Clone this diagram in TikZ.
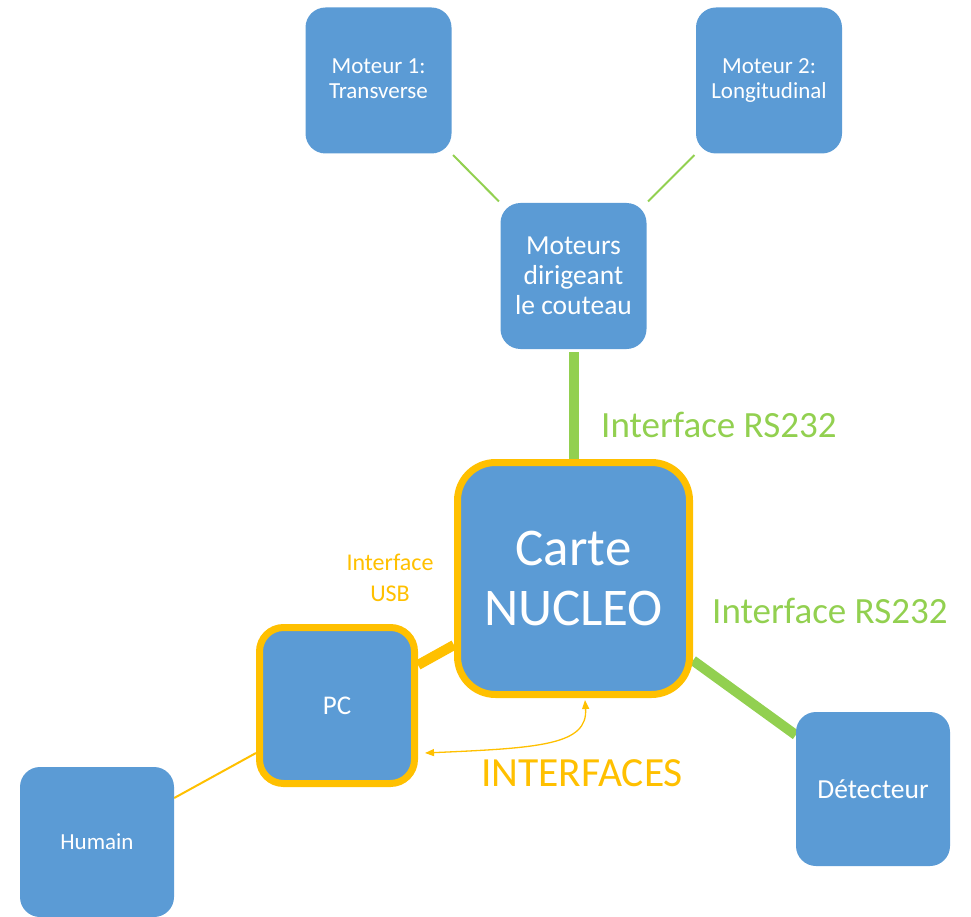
\documentclass[tikz,border=0pt]{standalone}
\usepackage{fontspec}
\setmainfont{Carlito}
\usetikzlibrary{arrows.meta,backgrounds,calc}
\definecolor{boxblue}{HTML}{5B9BD5}
\definecolor{ygold}{HTML}{FFC000}
\definecolor{lgreen}{HTML}{92D050}
\begin{document}
\begin{tikzpicture}[x=1pt,y=-1pt,
  blk/.style={rectangle, rounded corners=20pt, fill=boxblue, draw=none, text=white,
    align=center, minimum width=146pt, minimum height=146pt, inner sep=0pt},
  goldframe/.style={draw=ygold, line width=7pt},
  thinlink/.style={line width=2pt},
  thicklink/.style={line width=10pt},
  greenlabel/.style={text=lgreen, font=\fontsize{37}{40}\selectfont, anchor=base west, inner sep=0pt},
  goldtip/.tip={Triangle[length=9pt,width=7pt]}
]
\useasboundingbox (0,0) rectangle (971,917);

\node[blk, font=\fontsize{23}{25}\selectfont] (m1) at (378.5,80.5) {Moteur 1:\\Transverse\vphantom{g}};
\node[blk, font=\fontsize{23}{25}\selectfont] (m2) at (769,80.5) {Moteur 2:\\Longitudinal};
\node[blk, font=\fontsize{27.5}{30}\selectfont] (mm) at (573.5,276) {Moteurs\\dirigeant\\le couteau};
\node[blk, goldframe, rounded corners=38pt, minimum width=232pt, minimum height=232pt,
  font=\fontsize{53}{60}\selectfont] (carte) at (573.5,578.5) {Carte\\NUCLEO};
\node[blk, goldframe, rounded corners=24pt, minimum width=155pt, minimum height=156pt,
  font=\fontsize{27}{30}\selectfont] (pc) at (337,705.5) {PC};
\node[blk, minimum width=154pt, minimum height=150pt, font=\fontsize{23}{25}\selectfont] (hum) at (97,842) {Humain};
\node[blk, minimum width=154pt, minimum height=154pt, font=\fontsize{27.5}{30}\selectfont] (det) at (873,789) {Détecteur};

\begin{scope}[on background layer]
\draw[lgreen, thinlink, shorten <=2pt, shorten >=2pt] (m1.south east) -- (mm.north west);
\draw[lgreen, thinlink, shorten <=2pt, shorten >=2pt] (m2.south west) -- (mm.north east);
\draw[lgreen, thicklink, shorten <=3pt] (mm.south) -- (carte.north);
\draw[lgreen, thicklink] ([yshift=-82pt]carte.east) -- ([yshift=54pt]det.west);
\draw[ygold, thicklink] ([yshift=40.5pt]pc.east) -- ([yshift=-66.5pt]carte.west);
\draw[ygold, thinlink] ([yshift=44pt]hum.east) -- ([yshift=-47.5pt]pc.west);
\end{scope}

\draw[ygold, line width=1.3pt, goldtip-goldtip] ([xshift=7pt,yshift=-47.5pt]pc.east)
  .. controls (540,748) and (588,745) .. ([xshift=11.5pt,yshift=-2pt]carte.south);

\node[greenlabel] (l1) at (601,437) {Interface RS232};
\node[greenlabel] (l2) at (712,623) {Interface RS232};
\node[text=ygold, font=\fontsize{24}{31}\selectfont, align=center, inner sep=0pt] (usb) at (390,578) {Interface\\USB};
\node[text=ygold, font=\fontsize{41.5}{44}\selectfont, anchor=base west, inner sep=0pt] (itf) at (481,786) {INTERFACES};
\end{tikzpicture}
\end{document}
